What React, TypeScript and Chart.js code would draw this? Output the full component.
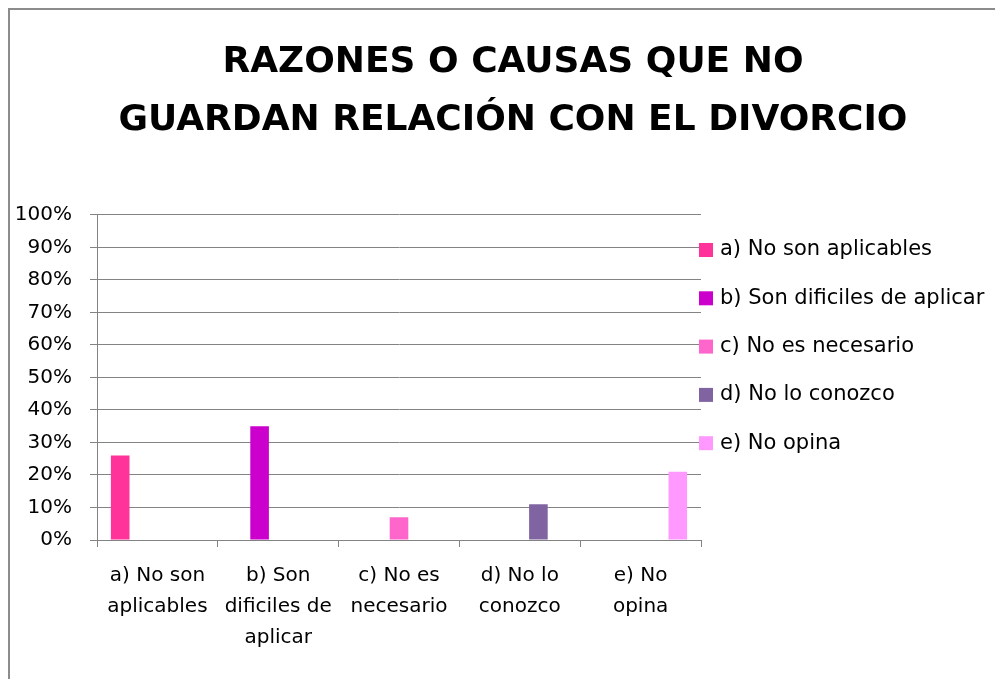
import React, { useEffect, useRef } from 'react';
import { Chart, registerables } from 'chart.js';

Chart.register(...registerables);

const titleLines = ['RAZONES O CAUSAS QUE NO', 'GUARDAN RELACIÓN CON EL DIVORCIO'];
const categories = [
  ['a) No son', 'aplicables'],
  ['b) Son', 'dificiles de', 'aplicar'],
  ['c) No es', 'necesario'],
  ['d) No lo', 'conozco'],
  ['e) No', 'opina'],
];
const seriesNames = [
  'a) No son aplicables',
  'b) Son dificiles de aplicar',
  'c) No es necesario',
  'd) No lo conozco',
  'e) No opina',
];
const seriesValues = [26, 35, 7, 11, 21];
const seriesColors = ['#FF3399', '#CC00CC', '#FF66CC', '#8064A2', '#FF99FF'];
const yMax = 100;
const yStep = 10;

const FONT = '"DejaVu Sans", sans-serif';
const GRID = '#838383';
const CANVAS_H = 690;

const sideLegend = {
  id: 'sideLegend',
  afterDraw(chart: any) {
    const { ctx, chartArea } = chart;
    ctx.save();
    ctx.font = `21px ${FONT}`;
    ctx.textBaseline = 'middle';
    ctx.textAlign = 'left';
    chart.data.datasets.forEach((ds: any, i: number) => {
      const cy = chartArea.top + 35 + i * 48.3;
      const bx = chartArea.right - 2;
      ctx.fillStyle = ds.backgroundColor;
      ctx.fillRect(bx, cy - 7, 14, 14);
      ctx.fillStyle = '#000';
      ctx.fillText(ds.label, bx + 21, cy);
    });
    ctx.restore();
  },
};

export default function App() {
  const ref = useRef<HTMLCanvasElement>(null);

  useEffect(() => {
    if (!ref.current) return;
    const prevOverflow = document.documentElement.style.overflow;
    document.documentElement.style.overflow = 'hidden';
    const datasets = seriesNames.map((name, i) => ({
      label: name,
      data: categories.map((_, j) => (j === i ? seriesValues[i] : null)),
      backgroundColor: seriesColors[i],
      borderWidth: 0,
      yAxisID: 'y',
      xAxisID: 'x',
      categoryPercentage: 0.77,
      barPercentage: 1,
    }));
    const chart = new Chart(ref.current, {
      type: 'bar',
      data: { labels: categories, datasets },
      plugins: [sideLegend],
      options: {
        responsive: false,
        animation: false,
        layout: { padding: 0 },
        plugins: {
          legend: { display: false },
          tooltip: { enabled: false },
          title: {
            display: true,
            text: titleLines,
            color: '#000',
            font: { family: FONT, size: 36, weight: 'bold', lineHeight: 1.6111 },
            padding: { top: 24, bottom: 65 },
          },
        },
        scales: {
          y: {
            position: 'left',
            min: 0,
            max: yMax,
            ticks: {
              stepSize: yStep,
              color: '#000',
              padding: 18,
              font: { family: FONT, size: 20 },
              callback: (v: any) => `${v}%`,
            },
            grid: { color: GRID, lineWidth: 1, tickLength: 7, drawTicks: true },
            border: { display: true, color: GRID, width: 1 },
            afterFit: (s: any) => {
              s.width = 87;
            },
          },
          yRight: {
            position: 'right',
            display: true,
            ticks: { display: false },
            grid: { display: false },
            border: { display: false },
            afterFit: (s: any) => {
              s.width = 315;
            },
          },
          x: {
            position: 'bottom',
            offset: true,
            ticks: {
              color: '#000',
              padding: 13,
              autoSkip: false,
              maxRotation: 0,
              font: { family: FONT, size: 20, lineHeight: 1.55 },
            },
            grid: { offset: true, drawOnChartArea: false, drawTicks: true, tickLength: 7, color: GRID },
            border: { display: true, color: GRID, width: 1 },
            afterFit: (s: any) => {
              s.height = CANVAS_H - 530;
            },
          },
        },
      } as any,
    });
    return () => {
      chart.destroy();
      document.documentElement.style.overflow = prevOverflow;
    };
  }, []);

  return (
    <div
      style={{
        width: 990,
        height: CANVAS_H,
        borderTop: '2px solid #8c8c8c',
        borderLeft: '2px solid #8c8c8c',
        borderRight: '2px solid #8c8c8c',
        background: '#fff',
        overflow: 'hidden',
      }}
    >
      <canvas ref={ref} width={1006} height={CANVAS_H} style={{ display: 'block' }} />
    </div>
  );
}
